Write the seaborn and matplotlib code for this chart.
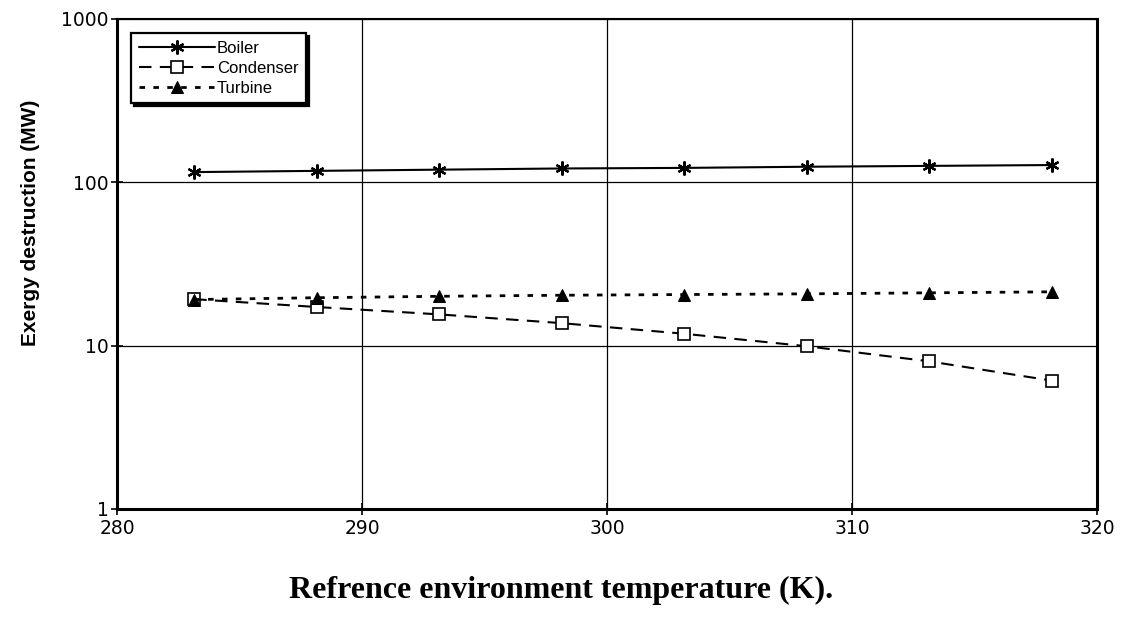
import matplotlib
matplotlib.use("Agg")
import matplotlib.pyplot as plt
import seaborn as sns
import pandas as pd

# Reference environment temperature (K)
temperature = [283.15, 288.15, 293.15, 298.15, 303.15, 308.15, 313.15, 318.15]

# Exergy destruction per component (MW)
boiler = [115, 117, 119, 121, 122, 124, 125.5, 127]
condenser = [19.2, 17.2, 15.5, 13.7, 11.8, 9.9, 8.0, 6.1]
turbine = [19.1, 19.6, 20.0, 20.3, 20.5, 20.7, 21.0, 21.3]

x_ticks = [280, 290, 300, 310, 320]
y_ticks = [1, 10, 100, 1000]

sns.set_theme(style="white")
plt.rcParams["font.family"] = ["DejaVu Sans"]
for key in ["text.color", "axes.labelcolor", "xtick.color", "ytick.color",
            "axes.edgecolor"]:
    plt.rcParams[key] = "black"

fig = plt.figure(figsize=(11.22, 6.28), dpi=100)
ax = fig.add_axes([0.1043, 0.1895, 0.8734, 0.781])

df = pd.DataFrame({"T": temperature, "Boiler": boiler,
                   "Condenser": condenser, "Turbine": turbine})

sns.lineplot(data=df, x="T", y="Boiler", ax=ax, color="black", linewidth=1.5,
             marker=(6, 2, 0), markersize=10, markeredgewidth=1.6,
             markeredgecolor="black", label="Boiler")
sns.lineplot(data=df, x="T", y="Condenser", ax=ax, color="black", linewidth=1.5,
             dashes=(6, 4), marker="s", markersize=9, markerfacecolor="white",
             markeredgecolor="black", markeredgewidth=1.2, label="Condenser")
sns.lineplot(data=df, x="T", y="Turbine", ax=ax, color="black", linewidth=2,
             dashes=(2, 3), marker="^", markersize=9, markerfacecolor="black",
             markeredgecolor="black", label="Turbine")

ax.set_yscale("log")
ax.set_xlim(280, 320)
ax.set_ylim(1, 1000)
ax.set_xticks(x_ticks)
ax.set_xticklabels([str(t) for t in x_ticks])
ax.set_yticks(y_ticks)
ax.set_yticklabels([str(t) for t in y_ticks])
ax.minorticks_off()

ax.grid(True, which="major", color="black", linewidth=0.9)
for side in ["left", "bottom", "right"]:
    ax.spines[side].set_color("black")
    ax.spines[side].set_linewidth(2.2)
ax.spines["top"].set_color("black")
ax.spines["top"].set_linewidth(1.5)

ax.tick_params(axis="both", direction="inout", length=8, width=1.2,
               colors="black", labelsize=13.5, bottom=True, left=True)
ax.tick_params(axis="x", pad=3)
ax.tick_params(axis="y", pad=2)

ax.set_ylabel("Exergy destruction (MW)", fontsize=15, fontweight="bold",
              family=["Liberation Sans", "DejaVu Sans"])
ax.yaxis.set_label_coords(-0.0786, 0.583)
ax.set_xlabel("")
fig.text(0.5, 0.06, "Refrence environment temperature (K).", ha="center",
         va="center", fontsize=23, fontweight="bold",
         family=["Liberation Serif", "DejaVu Serif"])

leg = ax.legend(loc="upper left", bbox_to_anchor=(0.0143, 0.9695),
                prop={"family": ["Liberation Sans"], "size": 12},
                frameon=True, fancybox=False, edgecolor="black",
                shadow={"color": "black", "alpha": 1.0},
                handlelength=4.6, handletextpad=0.1, borderpad=0.45,
                labelspacing=0.3, borderaxespad=0)
leg.get_frame().set_linewidth(1.6)

fig.savefig("out.png", dpi=100)
